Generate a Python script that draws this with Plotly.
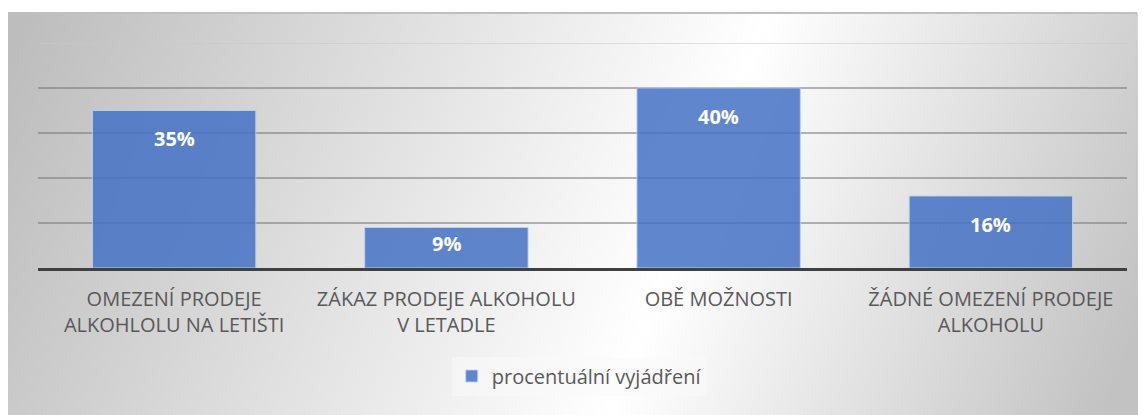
"""
Sloupcový graf: názory na omezení prodeje alkoholu (procentuální vyjádření).
"""

import base64

import plotly.graph_objects as go

# Data grafu.
kategorie = [
    "OMEZENÍ PRODEJE<br>ALKOHLOLU NA LETIŠTI",
    "ZÁKAZ PRODEJE ALKOHOLU<br>V LETADLE",
    "OBĚ MOŽNOSTI",
    "ŽÁDNÉ OMEZENÍ PRODEJE<br>ALKOHOLU",
]
hodnoty = [35, 9, 40, 16]
popisky = ["35%", "9%", "40%", "16%"]
nazev_serie = "procentuální vyjádření"
osa_y = [0, 50]


def pozadi(w, h):
    """
    Vrátí SVG s šedým přechodem (jako pozadí grafu v Excelu) jako data URI.
    """
    svg = (
        f'<svg xmlns="http://www.w3.org/2000/svg" width="{w}" height="{h}" '
        f'viewBox="0 0 {w} {h}" preserveAspectRatio="none">'
        '<defs><linearGradient id="g" gradientUnits="userSpaceOnUse" '
        'x1="42" y1="-58" x2="1110" y2="367">'
        '<stop offset="0" stop-color="#bdbdbd"/>'
        '<stop offset="0.6" stop-color="#ffffff"/>'
        '<stop offset="1" stop-color="#c2c2c2"/>'
        "</linearGradient></defs>"
        f'<rect width="{w}" height="{h}" fill="url(#g)"/>'
        "</svg>"
    )
    return "data:image/svg+xml;base64," + base64.b64encode(svg.encode()).decode()


def main():
    # Stránka má okraj 8 px, proto je obrázek o 8 px menší.
    sirka, vyska = 1138, 407
    okraj = dict(l=30, r=19, t=35, b=147)
    plocha_w = sirka - okraj["l"] - okraj["r"]
    plocha_h = vyska - okraj["t"] - okraj["b"]

    fig = go.Figure()

    fig.add_trace(
        go.Bar(
            x=kategorie,
            y=hodnoty,
            name=nazev_serie,
            marker_color="rgba(68, 114, 196, 0.85)",
            marker_line_color="rgba(190, 208, 238, 0.9)",
            marker_line_width=1,
            hoverinfo="skip",
        )
    )

    # Popisky hodnot uvnitř sloupců (u horního konce).
    px_na_jednotku = plocha_h / (osa_y[1] - osa_y[0])
    popisky_anotace = []
    for k, v, t in zip(kategorie, hodnoty, popisky):
        posun = min(28, v * px_na_jednotku - 25)
        popisky_anotace.append(
            dict(
                x=k,
                y=v,
                text=f"<b>{t}</b>",
                showarrow=False,
                yanchor="middle",
                yshift=-posun,
                font=dict(color="#FFFFFF", size=20),
            )
        )

    # Pozadí celé oblasti grafu (od 5 px shora až do pravého dolního rohu).
    x0 = -okraj["l"] / plocha_w
    y0 = 1 + (okraj["t"] - 5) / plocha_h
    fig.add_layout_image(
        dict(
            source=pozadi(sirka, vyska - 5),
            xref="paper",
            yref="paper",
            x=x0,
            y=y0,
            sizex=sirka / plocha_w,
            sizey=(vyska - 5) / plocha_h,
            sizing="stretch",
            xanchor="left",
            yanchor="top",
            layer="below",
        )
    )

    # Horní okraj oblasti grafu.
    fig.add_shape(
        type="line",
        xref="paper",
        yref="paper",
        x0=x0,
        x1=(1129 - okraj["l"]) / plocha_w,
        y0=y0,
        y1=y0,
        line=dict(color="#BFBFBF", width=2),
    )

    # Horní mřížka (na okraji rozsahu ji Plotly nekreslí).
    fig.add_shape(
        type="line",
        xref="paper",
        yref="y",
        x0=0,
        x1=1,
        y0=osa_y[1],
        y1=osa_y[1],
        line=dict(color="rgba(200, 200, 200, 0.7)", width=1.5),
        layer="below",
    )

    fig.update_xaxes(
        showline=True,
        linecolor="#404040",
        linewidth=3,
        showgrid=False,
        ticks="",
        tickfont=dict(color="#595959", size=20),
        ticklabelstandoff=11,
        automargin=False,
    )

    fig.update_yaxes(
        range=osa_y,
        dtick=10,
        showticklabels=False,
        showgrid=True,
        gridcolor="rgba(120, 120, 120, 0.55)",
        gridwidth=1.5,
        zeroline=False,
        automargin=False,
    )

    fig.update_layout(
        width=sirka,
        height=vyska,
        margin=okraj,
        bargap=0.4,
        paper_bgcolor="#FFFFFF",
        plot_bgcolor="rgba(0,0,0,0)",
        font_family="Open Sans",
        showlegend=True,
        legend=dict(
            orientation="h",
            x=0.497,
            xanchor="center",
            y=-(368 - (vyska - okraj["b"])) / plocha_h,
            yanchor="middle",
            bgcolor="rgba(250, 250, 250, 0.55)",
            font=dict(color="#595959", size=20),
            itemwidth=30,
        ),
        annotations=popisky_anotace,
    )

    fig.write_html("out.html")


if __name__ == "__main__":
    main()
